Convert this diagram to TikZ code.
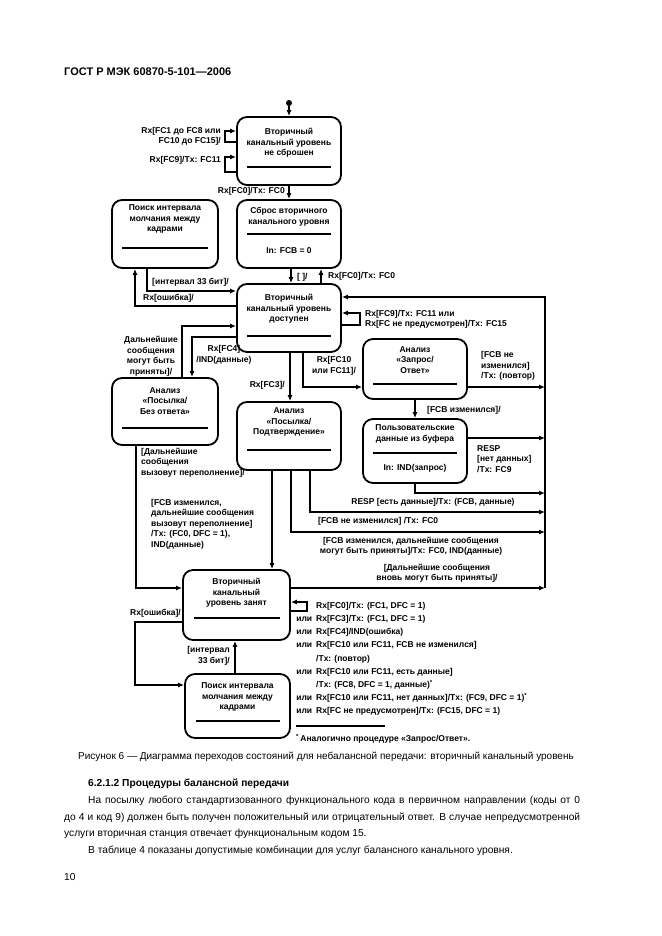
\documentclass[tikz,border=0pt]{standalone}
\usepackage{fontspec}
\setmainfont{Liberation Sans}
\usetikzlibrary{arrows.meta}
\newcommand\dgsz{\fontsize{8.5}{10.5}\selectfont}
\tikzset{
  st/.style={draw, line width=1.8pt, rounded corners=10pt, inner sep=0pt},
  ln/.style={line width=1.4pt},
  arr/.style={ln, -{Latex[length=6pt,width=5pt]}},
  dl/.style={font=\bfseries\dgsz, inner sep=0pt, align=center},
  dll/.style={dl, align=left, anchor=west},
  dlr/.style={dl, align=right, anchor=east},
}
\begin{document}
\begin{tikzpicture}[x=1pt,y=-1pt]
\useasboundingbox (0,0) rectangle (661,936);
\fill[white] (0,0) rectangle (661,936);

% header
\node[anchor=base west, inner sep=0, font=\bfseries\fontsize{11}{13}\selectfont] (hdr) at (64,76) {ГОСТ Р МЭК 60870-5-101—2006};

% boxes
\node[st, minimum width=104pt, minimum height=68pt] (b1) at (289,151) {};
\node[st, minimum width=104pt, minimum height=68pt] (b2) at (289,234) {};
\node[st, minimum width=106pt, minimum height=68pt] (b3) at (165,234) {};
\node[st, minimum width=104pt, minimum height=68pt] (b4) at (289,318) {};
\node[st, minimum width=106pt, minimum height=67pt] (b5) at (165,411.5) {};
\node[st, minimum width=104pt, minimum height=68pt] (b6) at (289,436) {};
\node[st, minimum width=104pt, minimum height=60pt] (b8) at (415,369) {};
\node[st, minimum width=104pt, minimum height=64pt] (b9) at (415,451) {};
\node[st, minimum width=107pt, minimum height=70pt] (b7) at (236.5,605) {};
\node[st, minimum width=105pt, minimum height=64pt] (b10) at (237.5,706) {};

% box texts
\node[dl] (b1t) at (289,143) {Вторичный\\канальный уровень\\не сброшен};
\draw[ln] (247,167) -- (331,167);
\node[dl] (b2t) at (289,217) {Сброс вторичного\\канального уровня};
\draw[ln] (247,234) -- (331,234);
\node[dl] (b2u) at (289,251) {In: FCB = 0};
\node[dl] (b3t) at (165,219) {Поиск интервала\\молчания между\\кадрами};
\draw[ln] (122,248) -- (208,248);
\node[dl] (b4t) at (289,309) {Вторичный\\канальный уровень\\доступен};
\draw[ln] (247,336) -- (331,336);
\node[dl] (b5t) at (165,401) {Анализ\\«Посылка/\\Без ответа»};
\draw[ln] (122,428) -- (208,428);
\node[dl] (b6t) at (289,422) {Анализ\\«Посылка/\\Подтверждение»};
\draw[ln] (247,450) -- (331,450);
\node[dl] (b8t) at (415,360) {Анализ\\«Запрос/\\Ответ»};
\draw[ln] (373,384) -- (457,384);
\node[dl] (b9t) at (415,434) {Пользовательские\\данные из буфера};
\draw[ln] (373,453) -- (457,453);
\node[dl] (b9u) at (415,468) {In: IND(запрос)};
\node[dl] (b7t) at (236.5,593) {Вторичный\\канальный\\уровень занят};
\draw[ln] (194,618) -- (280,618);
\node[dl] (b10t) at (237.5,697) {Поиск интервала\\молчания между\\кадрами};
\draw[ln] (196,721) -- (280,721);

% start
\node[circle, fill, inner sep=0pt, minimum size=6pt] (s0) at (289,103) {};
\draw[arr] (s0) -- (b1.north);

% b1 loops
\draw[arr] (b1.west |- 0,142) -| (225,131) -- (b1.west |- 0,131);
\node[dlr] (l1) at (221,136.5) {Rx[FC1 до FC8 или\\FC10 до FC15]/};
\draw[arr] (b1.west |- 0,172) -| (225,157) -- (b1.west |- 0,157);
\node[dlr] (l2) at (221,160) {Rx[FC9]/Tx: FC11};

% b1 -> b2
\draw[arr] (b1.south) -- (b2.north);
\node[dlr] (l3) at (285,191) {Rx[FC0]/Tx: FC0};

% b2 <-> b4
\draw[arr] (b2.south -| 291,0) -- (b4.north -| 291,0);
\node[dll] (l4) at (297,277) {[ ]/};
\draw[arr] (b4.north -| 321,0) -- (b2.south -| 321,0);
\node[dll] (l5) at (328,276) {Rx[FC0]/Tx: FC0};

% b3 <-> b4
\draw[arr] (b3.south -| 147,0) |- (b4.west |- 0,291);
\node[dll] (l6) at (152,282) {[интервал 33 бит]/};
\draw[arr] (b4.west |- 0,306) -| (b3.south -| 135,0);
\node[dll] (l7) at (143,298) {Rx[ошибка]/};

% b5 <-> b4
\draw[arr] (b5.north -| 182,0) |- (b4.west |- 0,326);
\node[dl] (l8) at (151,356) {Дальнейшие\\сообщения\\могут быть\\приняты]/};
\draw[arr] (b4.west |- 0,337) -| (b5.north -| 192,0);
\node[dl] (l9) at (224,355) {Rx[FC4]\\/IND(данные)};

% b4 -> b6, b8
\draw[arr] (b4.south -| 290,0) -- (b6.north -| 290,0);
\node[dlr] (l10) at (285,385) {Rx[FC3]/};
\draw[arr] (b4.south -| 303,0) |- (b8.west |- 0,387);
\node[dl] (l11) at (334,366) {Rx[FC10\\или FC11]/};

% b4 self loop
\draw[arr] (b4.east |- 0,325) -| (360,313) -- (b4.east |- 0,313);
\node[dll] (l12) at (365,319.5) {Rx[FC9]/Tx: FC11 или\\Rx[FC не предусмотрен]/Tx: FC15};

% b8 -> b9
\draw[arr] (b8.south -| 415,0) -- (b9.north -| 415,0);
\node[dll] (l13) at (427,410) {[FCB изменился]/};

% right rail
\coordinate (r1) at (545,387);
\coordinate (r2) at (545,438);
\coordinate (r3) at (545,493);
\coordinate (r4) at (545,512);
\coordinate (r5) at (545,532);
\coordinate (r6) at (545,588);
\draw[arr] (r6) |- (b4.east |- 0,297);

\draw[arr] (b8.east |- r1) -- (r1);
\node[dll] (l14) at (481,366) {[FCB не\\изменился]\\/Tx: (повтор)};
\draw[arr] (b9.east |- r2) -- (r2);
\node[dll] (l15) at (477,459) {RESP\\{}[нет данных]\\/Tx: FC9};
\draw[arr] (b9.south -| 415,0) |- (r3);
\node[dl] (l16) at (433,502) {RESP [есть данные]/Tx: (FCB, данные)};
\draw[arr] (b6.south -| 310,0) |- (r4);
\node[dll] (l17) at (318,521) {[FCB не изменился] /Tx: FC0};
\draw[arr] (b6.south -| 291,0) |- (r5);
\node[dl] (l18) at (411,546) {[FCB изменился, дальнейшие сообщения\\могут быть приняты]/Tx: FC0, IND(данные)};

% b6 -> b7
\draw[arr] (b6.south -| 272,0) -- (b7.north -| 272,0);
\node[dll] (l19) at (151,524) {[FCB изменился,\\дальнейшие сообщения\\вызовут переполнение]\\/Tx: (FC0, DFC = 1),\\IND(данные)};

% b5 -> b7
\draw[arr] (b5.south -| 136,0) |- (b7.west |- r6);
\node[dll] (l20) at (141,462.5) {[Дальнейшие\\сообщения\\вызовут переполнение]/};

% b7 -> rail
\draw[arr] (b7.east |- r6) -- (r6);
\node[dl] (l21) at (437,573) {[Дальнейшие сообщения\\вновь могут быть приняты]/};

% b7 <-> b10
\draw[arr] (b7.west |- 0,622) -| (135,685) -- (b10.west |- 0,685);
\node[dlr] (l22) at (181,613) {Rx[ошибка]/};
\draw[arr] (b10.north -| 235,0) -- (b7.south -| 235,0);
\node[dlr] (l23) at (230,656) {[интервал\\33 бит]/};

% b7 self loop
\draw[arr] (b7.east |- 0,611) -| (307,602) -- (b7.east |- 0,602);

% list
\node[dl, align=left, anchor=north west, font=\bfseries\fontsize{8.5}{13.2}\selectfont] (lst) at (316,602) {%
Rx[FC0]/Tx: (FC1, DFC = 1)\\
\llap{или\hspace{4pt}}Rx[FC3]/Tx: (FC1, DFC = 1)\\
\llap{или\hspace{4pt}}Rx[FC4]/IND(ошибка)\\
\llap{или\hspace{4pt}}Rx[FC10 или FC11, FCB не изменился]\\
/Tx: (повтор)\\
\llap{или\hspace{4pt}}Rx[FC10 или FC11, есть данные]\\
/Tx: (FC8, DFC = 1, данные)\textsuperscript{*}\\
\llap{или\hspace{4pt}}Rx[FC10 или FC11, нет данных]/Tx: (FC9, DFC = 1)\textsuperscript{*}\\
\llap{или\hspace{4pt}}Rx[FC не предусмотрен]/Tx: (FC15, DFC = 1)};
\draw[ln] (296,726) -- (385,726);
\node[dll] (fn) at (296,739) {\textsuperscript{*}\,Аналогично процедуре «Запрос/Ответ».};

% caption and text
\node[anchor=base west, inner sep=0, font=\fontsize{10}{12}\selectfont] (cap) at (78,759.5) {Рисунок 6 — Диаграмма переходов состояний для небалансной передачи: вторичный канальный уровень};
\node[anchor=base west, inner sep=0, font=\bfseries\fontsize{10.2}{12}\selectfont] (h2) at (88,786) {6.2.1.2 Процедуры балансной передачи};
\node[anchor=base west, inner sep=0, font=\fontsize{10.2}{12}\selectfont] (p1) at (88,803) {\makebox[492pt][s]{На посылку любого стандартизованного функционального кода в первичном направлении (коды от 0}};
\node[anchor=base west, inner sep=0, font=\fontsize{10.2}{12}\selectfont] (p2) at (64,820) {\makebox[516pt][s]{до 4 и код 9) должен быть получен положительный или отрицательный ответ. В случае непредусмотренной}};
\node[anchor=base west, inner sep=0, font=\fontsize{10.2}{12}\selectfont] (p3) at (64,836) {услуги вторичная станция отвечает функциональным кодом 15.};
\node[anchor=base west, inner sep=0, font=\fontsize{10.2}{12}\selectfont] (p4) at (88,853) {В таблице 4 показаны допустимые комбинации для услуг балансного канального уровня.};
\node[anchor=base west, inner sep=0, font=\fontsize{10.2}{12}\selectfont] (pg) at (64,880) {10};
\end{tikzpicture}
\end{document}
